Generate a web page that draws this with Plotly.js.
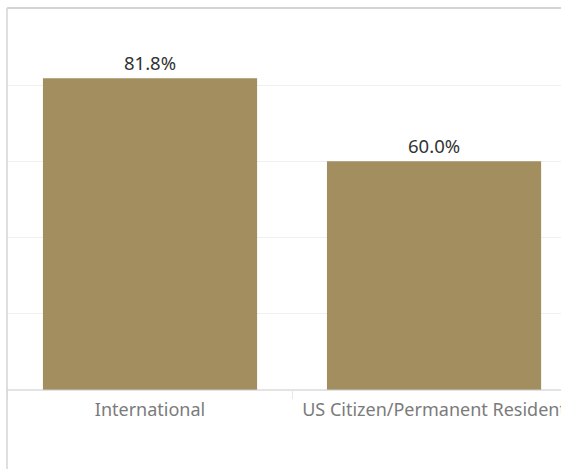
<!DOCTYPE html>
<html>
<head>
<meta charset="utf-8">
<script src="https://cdn.plot.ly/plotly-3.0.1.min.js"></script>
<style>
html,body{margin:0;padding:0;overflow:hidden;background:#fff;}
#chart{width:561px;height:469px;}
</style>
</head>
<body>
<div id="chart"></div>
<script>
const categories = ["International", "US Citizen/Permanent Resident"];
const values = [81.8, 60.0];
const valueLabels = ["81.8%", "60.0%"];
const yTicks = [20, 40, 60, 80];

const trace = {
  type: "bar",
  x: categories,
  y: values,
  text: valueLabels,
  textposition: "outside",
  textfont: {family: "Noto Sans, Open Sans, sans-serif", size: 18.5, color: "#333333"},
  cliponaxis: false,
  marker: {color: "#a38e5f"},
  width: 0.754,
  hoverinfo: "none"
};

const layout = {
  width: 561,
  height: 469,
  margin: {l: 7, r: 0, t: 8, b: 79, pad: 0},
  paper_bgcolor: "#ffffff",
  plot_bgcolor: "#ffffff",
  showlegend: false,
  xaxis: {
    type: "category",
    range: [-0.5035, 1.447],
    tickson: "boundaries",
    ticks: "outside",
    ticklen: 8,
    tickcolor: "#e6e6e6",
    tickwidth: 1,
    ticklabelstandoff: 7,
    showgrid: false,
    zeroline: false,
    showline: false,
    tickfont: {family: "Noto Sans, Open Sans, sans-serif", size: 18, color: "#7b7b7b"},
    fixedrange: true
  },
  yaxis: {
    range: [0, 100.2],
    tickvals: yTicks,
    showticklabels: false,
    ticks: "",
    showgrid: true,
    gridcolor: "#f0f0f0",
    gridwidth: 1,
    zeroline: false,
    showline: false,
    fixedrange: true
  },
  shapes: [
    {type: "line", xref: "paper", yref: "paper", x0: 0, x1: 1, y0: 0, y1: 0,
     line: {color: "#c8c8c8", width: 1}},
    {type: "line", xref: "paper", yref: "paper", x0: 0, x1: 1, y0: 1, y1: 1,
     line: {color: "#d4d4d4", width: 2}},
    {type: "line", xref: "paper", yref: "paper", x0: 0, x1: 0, y0: -0.21, y1: 1,
     line: {color: "#d4d4d4", width: 1.5}}
  ]
};

Plotly.newPlot("chart", [trace], layout, {displayModeBar: false, staticPlot: true});
</script>
</body>
</html>
